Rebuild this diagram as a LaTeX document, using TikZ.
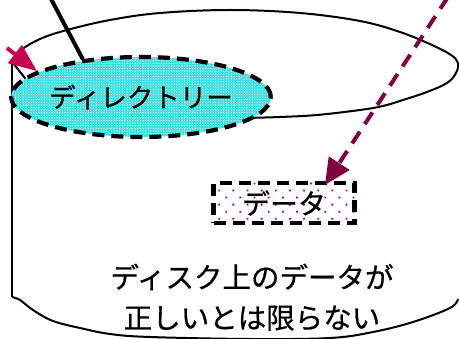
\documentclass[tikz,border=0pt]{standalone}
\usepackage{fontspec}
\newfontfamily\jp[FakeBold=0.6]{Noto Sans CJK JP}
\usetikzlibrary{patterns.meta,arrows.meta,calc,shapes.geometric}
\definecolor{crim}{RGB}{200,0,80}
\definecolor{maroonc}{RGB}{128,0,64}
\definecolor{cyanfill}{RGB}{64,224,224}
\definecolor{dotcol}{RGB}{170,0,100}
\begin{document}
\begin{tikzpicture}[x=1pt,y=-1pt,
  outline/.style={line width=2pt, line join=round},
  dirnode/.style={ellipse, draw, line width=4.2pt, dash pattern=on 12pt off 7pt,
    minimum width=234pt, minimum height=80pt, inner sep=0pt,
    preaction={fill=cyanfill},
    pattern={Dots[distance=2.6pt, radius=0.55pt]}, pattern color=white,
    font=\jp\fontsize{26.5}{30}\selectfont},
  databox/.style={draw, line width=4.2pt, dash pattern=on 12pt off 7pt,
    minimum width=141pt, minimum height=40pt, inner sep=0pt,
    preaction={fill=white},
    pattern={Dots[distance=10pt, radius=1.3pt, angle=45]}, pattern color=dotcol,
    font=\jp\fontsize{28}{30}\selectfont},
  bigtext/.style={font=\jp\fontsize{28.5}{30}\selectfont, anchor=base, inner sep=0pt}
]
\useasboundingbox (0,0) rectangle (459,339);
% cylinder outline
\draw[outline] plot[smooth, tension=0.6] coordinates {(13,63) (20,51) (40,39) (67,30) (110,20) (160,13) (230,10) (300,13) (360,21) (400,32) (432,45) (451,55) (458,63) (456,73) (447,83) (427,92) (403,100) (383,106) (360,110) (317,115) (280,117) (245,118)};
\draw[outline] (13,63) -- (28,82);
\draw[outline] (12,62) -- (12,297);
\draw[outline] plot[smooth, tension=0.6] coordinates {(12,297) (20,300) (33,310) (53,321) (80,328) (110,334) (150,337) (250,339) (330,338) (373,332) (413,322) (450,308) (458,299)};
% directory ellipse
\node[dirnode] (dir) at (141,97) {ディレクトリー};
% data box
\node[databox] (data) at (284,203) {データ};
% bottom text
\node[bigtext] (t1) at (252,288) {ディスク上のデータが};
\node[bigtext] (t2) at (252,328.5) {正しいとは限らない};
% connectors
\coordinate (blk) at (50,-3);
\coordinate (crs) at (7,48);
\coordinate (mst) at (448,-3);
\draw[line width=4pt] (blk) -- (dir.147);
\draw[crim, line width=4pt, -{Triangle[length=28pt,width=22pt]}] (crs) -- (dir.166);
\draw[maroonc, line width=4pt, dash pattern=on 14pt off 9pt, -{Triangle[length=26pt,width=24pt]}] (mst) -- ($(data.north)+(41,4)$);
\end{tikzpicture}
\end{document}
